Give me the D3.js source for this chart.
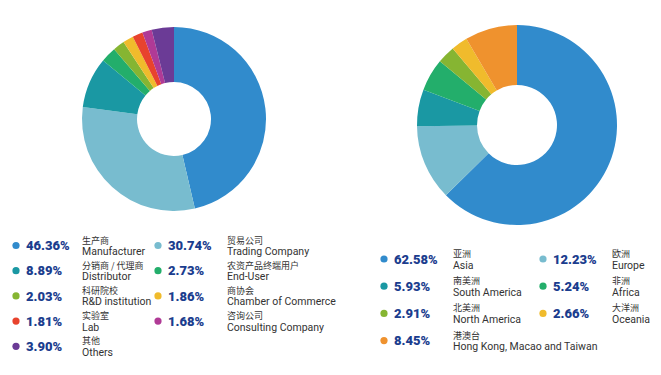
<!DOCTYPE html>
<html>
<head>
<meta charset="utf-8">
<script src="https://cdn.jsdelivr.net/npm/d3@7"></script>
<style>
  body { margin: 0; background: #fff; }
  svg { display: block; }
</style>
</head>
<body>
<script>
// customer type chart
var typeNamesZh = ["生产商", "贸易公司", "分销商 / 代理商", "农资产品终端用户", "科研院校", "商协会", "实验室", "咨询公司", "其他"];
var typeNamesEn = ["Manufacturer", "Trading Company", "Distributor", "End-User", "R&D institution", "Chamber of Commerce", "Lab", "Consulting Company", "Others"];
var typeValues = [46.36, 30.74, 8.89, 2.73, 2.03, 1.86, 1.81, 1.68, 3.90];
var typeColors = ["#318bcc", "#78bccf", "#1a98a3", "#23ae6b", "#86b532", "#f0bb2c", "#e8432d", "#b03a96", "#6b3b96"];

// region chart
var regionNamesZh = ["亚洲", "欧洲", "南美洲", "非洲", "北美洲", "大洋洲", "港澳台"];
var regionNamesEn = ["Asia", "Europe", "South America", "Africa", "North America", "Oceania", "Hong Kong, Macao and Taiwan"];
var regionValues = [62.58, 12.23, 5.93, 5.24, 2.91, 2.66, 8.45];
var regionColors = ["#318bcc", "#78bccf", "#1a98a3", "#23ae6b", "#86b532", "#f0bb2c", "#ef922e"];

var width = 661, height = 375;

var svg = d3.select("body").append("svg")
  .attr("width", width)
  .attr("height", height);

function drawDonut(values, colors, cx, cy, r0, r1) {
  var pie = d3.pie().sort(null).value(function(d) { return d; });
  var arc = d3.arc().innerRadius(r0).outerRadius(r1);
  var g = svg.append("g").attr("transform", "translate(" + cx + "," + cy + ")");
  g.selectAll("path")
    .data(pie(values))
    .enter().append("path")
    .attr("d", arc)
    .attr("fill", function(d, i) { return colors[i]; });
}

function drawLegend(zh, en, values, colors, opt) {
  var g = svg.append("g");
  var item = g.selectAll("g")
    .data(values)
    .enter().append("g")
    .attr("transform", function(d, i) {
      return "translate(" + opt.colX[i % 2] + "," + (opt.y0 + Math.floor(i / 2) * opt.rowH) + ")";
    });

  item.append("circle")
    .attr("cx", 0)
    .attr("cy", 0)
    .attr("r", 3.6)
    .attr("fill", function(d, i) { return colors[i]; });

  item.append("text")
    .attr("x", 10)
    .attr("y", 4.6)
    .attr("fill", "#1b3d8e")
    .attr("font-family", "Roboto, 'Open Sans', sans-serif")
    .attr("font-weight", 900)
    .attr("font-size", "13px")
    .text(function(d) { return d.toFixed(2) + "%"; });

  item.append("text")
    .attr("x", function(d, i) { return opt.labelDx[i % 2]; })
    .attr("y", -2)
    .attr("fill", "#333")
    .attr("font-family", "'Noto Sans CJK SC', sans-serif")
    .attr("font-size", "9px")
    .text(function(d, i) { return zh[i]; });

  item.append("text")
    .attr("x", function(d, i) { return opt.labelDx[i % 2]; })
    .attr("y", 9.5)
    .attr("fill", "#333")
    .attr("font-family", "Roboto, 'Noto Sans', sans-serif")
    .attr("font-size", "10.5px")
    .text(function(d, i) { return en[i]; });
}

drawDonut(typeValues, typeColors, 174, 119, 37, 92);
drawDonut(regionValues, regionColors, 517, 125, 40, 100);

drawLegend(typeNamesZh, typeNamesEn, typeValues, typeColors,
  { colX: [16, 158], y0: 245.5, rowH: 25.2, labelDx: [66, 69] });
drawLegend(regionNamesZh, regionNamesEn, regionValues, regionColors,
  { colX: [384, 543], y0: 259, rowH: 27.2, labelDx: [69, 69] });
</script>
</body>
</html>
